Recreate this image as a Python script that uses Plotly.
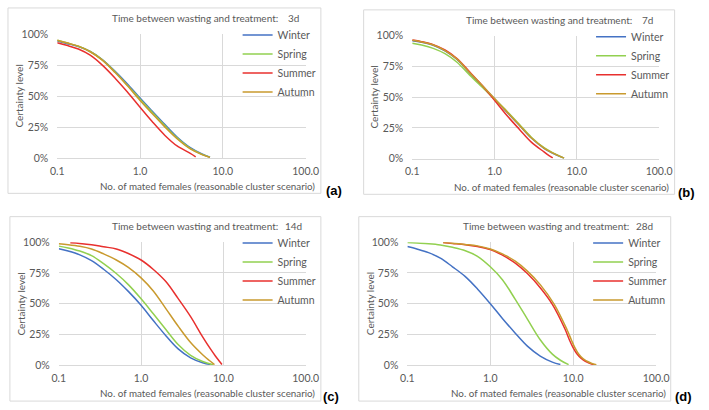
import plotly.graph_objects as go

W, H = 709, 410

SEASONS = ["Winter", "Spring", "Summer", "Autumn"]
COLORS = ["#4472C4", "#92D050", "#E8302E", "#C99A2E"]
PANEL_DAYS = ["3d", "7d", "14d", "28d"]
PANEL_TAGS = ["(a)", "(b)", "(c)", "(d)"]
X_TICKS = [0.1, 1, 10, 100]
X_TICKTEXT = ["0.1", "1.0", "10.0", "100.0"]
Y_TICKS = [0, 25, 50, 75, 100]
Y_TICKTEXT = ["0%", "25%", "50%", "75%", "100%"]

# ---- panel (a): 3d ----
a_winter_x = [0.1, 0.13, 0.18, 0.25, 0.35, 0.5, 0.7, 1.0, 1.4, 2.0, 2.8, 4.0, 5.6, 7.0]
a_winter_y = [94.5, 92.5, 90, 86, 79.5, 70, 60, 48.5, 38, 27, 17, 8.6, 3.3, 0.8]
a_spring_x = [0.1, 0.13, 0.18, 0.25, 0.35, 0.5, 0.7, 1.0, 1.4, 2.0, 2.8, 4.0, 5.6, 7.0]
a_spring_y = [95, 93, 90.3, 86, 79.3, 69.5, 59, 47.5, 37, 26, 16.3, 8, 3, 0.6]
a_summer_x = [0.1, 0.13, 0.18, 0.25, 0.35, 0.5, 0.7, 1.0, 1.4, 2.0, 2.8, 4.0, 4.7]
a_summer_y = [93, 91, 88, 83, 75, 64.5, 53.5, 41, 29.5, 18.3, 9.8, 4, 1]
a_autumn_x = [0.1, 0.13, 0.18, 0.25, 0.35, 0.5, 0.7, 1.0, 1.4, 2.0, 2.8, 4.0, 5.6, 7.0]
a_autumn_y = [95, 93, 90.3, 85.8, 79, 69, 58.5, 46.5, 36, 25, 15.6, 7.6, 2.8, 0.6]

# ---- panel (b): 7d ----
b_winter_x = [0.1, 0.13, 0.18, 0.25, 0.35, 0.5, 0.7, 1.0, 1.4, 2.0, 2.8, 4.0, 5.6, 7.0]
b_winter_y = [96, 94.7, 92.2, 87.7, 80.7, 69.7, 59.7, 48.7, 38.2, 27.2, 16.8, 8.5, 3.2, 0.5]
b_spring_x = [0.1, 0.13, 0.18, 0.25, 0.35, 0.5, 0.7, 1.0, 1.4, 2.0, 2.8, 4.0, 5.6, 7.0]
b_spring_y = [94, 92.5, 89.8, 85.5, 78.5, 68, 58.5, 48.5, 39, 28, 17.5, 9, 3.5, 0.5]
b_summer_x = [0.1, 0.13, 0.18, 0.25, 0.35, 0.5, 0.7, 1.0, 1.4, 2.0, 2.8, 4.0, 4.6, 5.1]
b_summer_y = [96.5, 95.2, 92.8, 88.5, 81.5, 70.5, 60, 47.5, 35.5, 24, 13.5, 5.5, 2.5, 0.6]
b_autumn_x = [0.1, 0.13, 0.18, 0.25, 0.35, 0.5, 0.7, 1.0, 1.4, 2.0, 2.8, 4.0, 5.6, 7.0]
b_autumn_y = [96.3, 95, 92.5, 88, 81, 70, 60, 49, 38.5, 27.5, 17, 8.7, 3.3, 0.5]

# ---- panel (c): 14d ----
c_winter_x = [0.1, 0.13, 0.18, 0.25, 0.35, 0.5, 0.7, 1.0, 1.4, 2.0, 2.8, 4.0, 5.6, 7.0]
c_winter_y = [94.7, 92.8, 89.7, 85, 78, 69.5, 60, 48.7, 36.5, 24, 13.5, 6, 2, 0.5]
c_spring_x = [0.1, 0.13, 0.18, 0.25, 0.35, 0.5, 0.7, 1.0, 1.4, 2.0, 2.8, 4.0, 5.6, 7.5]
c_spring_y = [96.8, 95.3, 92.8, 89, 82.5, 74.5, 65.5, 54, 42, 29, 17, 8, 3, 0.4]
c_summer_x = [0.138, 0.18, 0.25, 0.35, 0.5, 0.7, 1.0, 1.4, 2.0, 2.8, 4.0, 5.6, 7.0, 8.0, 9.0, 9.6]
c_summer_y = [99.5, 99, 98, 96.3, 94.5, 90.8, 85.5, 78, 68, 54.5, 39.5, 23, 13, 7.5, 3, 0.5]
c_autumn_x = [0.1, 0.13, 0.18, 0.25, 0.35, 0.5, 0.7, 1.0, 1.4, 2.0, 2.8, 4.0, 5.6, 6.7, 7.8]
c_autumn_y = [98.7, 98, 96.7, 94.5, 90.5, 85.5, 79.5, 71, 60.5, 46, 32, 18.4, 8.5, 4, 0.5]

# ---- panel (d): 28d ----
d_winter_x = [0.1, 0.13, 0.18, 0.25, 0.35, 0.5, 0.7, 1.0, 1.4, 2.0, 2.8, 4.0, 5.6, 7.0]
d_winter_y = [96.5, 94.5, 91.5, 87, 80, 72, 62, 50, 38, 26, 15.5, 7.4, 2.5, 0.5]
d_spring_x = [0.1, 0.13, 0.18, 0.25, 0.35, 0.5, 0.7, 1.0, 1.4, 2.0, 2.8, 4.0, 5.6, 7.0, 8.8]
d_spring_y = [99.7, 99.3, 98.8, 97.8, 95.8, 93, 88.5, 80, 69.5, 53.5, 37.5, 20.7, 9, 4, 0.4]
d_summer_x = [0.27, 0.35, 0.5, 0.7, 1.0, 1.4, 2.0, 2.8, 4.0, 5.6, 8.0, 9.0, 10, 11, 12.5, 14, 15.5, 17.7]
d_summer_y = [99.7, 99, 98, 96.5, 94, 89.5, 83, 74.5, 63, 49.5, 29, 20.5, 14, 9.5, 5.5, 3.2, 1.8, 0.4]
d_autumn_x = [0.27, 0.35, 0.5, 0.7, 1.0, 1.4, 2.0, 2.8, 4.0, 5.9, 8.4, 9.5, 10.5, 11.5, 13, 14.7, 16.5, 19]
d_autumn_y = [99.7, 99.2, 98.2, 97, 94.5, 90.5, 84.5, 76.5, 65.5, 49.5, 29, 20.5, 14, 9.5, 5.5, 3.2, 1.6, 0.4]

PANELS = [
    [(a_winter_x, a_winter_y), (a_spring_x, a_spring_y), (a_summer_x, a_summer_y), (a_autumn_x, a_autumn_y)],
    [(b_winter_x, b_winter_y), (b_spring_x, b_spring_y), (b_summer_x, b_summer_y), (b_autumn_x, b_autumn_y)],
    [(c_winter_x, c_winter_y), (c_spring_x, c_spring_y), (c_summer_x, c_summer_y), (c_autumn_x, c_autumn_y)],
    [(d_winter_x, d_winter_y), (d_spring_x, d_spring_y), (d_summer_x, d_summer_y), (d_autumn_x, d_autumn_y)],
]

# ---- layout geometry (pixels) ----
PLOT_BOX = [  # left, right, top, bottom of each plotting area
    (51.7, 307.3, 29.0, 156.7),
    (417.0, 671.0, 30.7, 157.3),
    (53.3, 307.3, 243.3, 370.0),
    (412.0, 668.0, 243.3, 370.0),
]
FRAME = [(1, 323, 2, 193), (367, 687, 4, 194), (3, 323, 217, 407), (362, 683, 217, 407)]
TAG_POS = [(337, 190), (699, 192), (333, 402), (696, 402)]

FONT = "Lato, 'Open Sans', sans-serif"
GRAY = "#595959"
GRID = "#D9D9D9"


def px(x):
    return x / W


def py(y):
    return 1 - y / H


fig = go.Figure()
layout = dict(
    width=W, height=H,
    margin=dict(l=0, r=0, t=0, b=0),
    paper_bgcolor="white", plot_bgcolor="white",
    font=dict(family=FONT, size=10, color=GRAY),
    annotations=[], shapes=[],
)

for i, series in enumerate(PANELS):
    k = "" if i == 0 else str(i + 1)
    lg = "legend" if i == 0 else "legend" + str(i + 1)
    l, r, t, b = PLOT_BOX[i]
    for j, (xs, ys) in enumerate(series):
        fig.add_trace(go.Scatter(
            x=xs, y=ys, mode="lines", name=SEASONS[j],
            line=dict(color=COLORS[j], width=1.5, shape="spline", smoothing=1.0),
            xaxis="x" + k, yaxis="y" + k, legend=lg, showlegend=True,
        ))
    layout["xaxis" + k] = dict(
        type="log", range=[-1, 2], domain=[px(l), px(r)], anchor="y" + k,
        tickvals=X_TICKS, ticktext=X_TICKTEXT, showgrid=True, gridcolor=GRID,
        gridwidth=1, zeroline=False, showline=True, linecolor=GRID, linewidth=1,
        ticks="", tickfont=dict(size=10.5, color=GRAY, family=FONT), ticklabelstandoff=3,
    )
    layout["yaxis" + k] = dict(
        range=[0, 100], domain=[py(b), py(t)], anchor="x" + k,
        tickvals=Y_TICKS, ticktext=Y_TICKTEXT, showgrid=True, gridcolor=GRID,
        gridwidth=1, zeroline=False, showline=False, ticks="",
        tickfont=dict(size=10.5, color=GRAY, family=FONT), ticklabelstandoff=8,
    )
    fl, fr, ft, fb = FRAME[i]
    layout["shapes"].append(dict(
        type="rect", xref="paper", yref="paper", x0=px(fl), x1=px(fr), y0=py(fb), y1=py(ft),
        line=dict(color=GRID, width=1), layer="below",
    ))
    layout["annotations"].append(dict(
        text="Time between wasting and treatment:", xref="paper", yref="paper",
        x=px(r - 26), y=py(t - 16.5), xanchor="right", yanchor="middle", showarrow=False,
        font=dict(size=10, color=GRAY, family=FONT),
    ))
    layout["annotations"].append(dict(
        text=PANEL_DAYS[i], xref="paper", yref="paper",
        x=px(r - 12), y=py(t - 16.5), xanchor="center", yanchor="middle", showarrow=False,
        font=dict(size=10, color=GRAY, family=FONT),
    ))
    layout["annotations"].append(dict(
        text="Certainty level", xref="paper", yref="paper", textangle=-90,
        x=px(l - 39), y=py((t + b) / 2), xanchor="center", yanchor="middle", showarrow=False,
        font=dict(size=10, color=GRAY, family=FONT),
    ))
    layout["annotations"].append(dict(
        text="No. of mated females (reasonable cluster scenario)", xref="paper", yref="paper",
        x=px(r + 12), y=py(b + 29), xanchor="right", yanchor="middle", showarrow=False,
        font=dict(size=9.8, color=GRAY, family=FONT),
    ))
    tx, ty = TAG_POS[i]
    layout["annotations"].append(dict(
        text="<b>" + PANEL_TAGS[i] + "</b>", xref="paper", yref="paper",
        x=px(tx), y=py(ty), xanchor="center", yanchor="middle", showarrow=False,
        font=dict(size=13, color="black", family="Liberation Sans, Arial, sans-serif"),
    ))
    layout[lg] = dict(
        x=px(r - 70), y=py(t - 14), xanchor="left", yanchor="top",
        bgcolor="rgba(0,0,0,0)", borderwidth=0,
        font=dict(size=10.5, color=GRAY, family=FONT), tracegroupgap=0,
    )

fig.update_layout(**layout)
fig.write_html(
    "out.html",
    config={"displayModeBar": False},
    post_script=(
        "document.documentElement.style.margin='0';"
        "document.documentElement.style.overflow='hidden';"
        "document.body.style.margin='0';document.body.style.overflow='hidden';"
    ),
)
